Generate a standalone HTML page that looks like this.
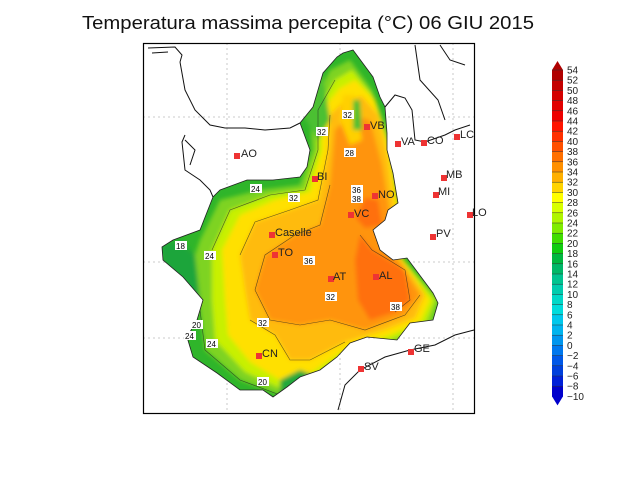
<!DOCTYPE html>
<html><head><meta charset="utf-8"><style>
body{margin:0;background:#fff;width:640px;height:480px;overflow:hidden}
svg{display:block}
text{font-family:"Liberation Sans",sans-serif}
</style></head><body>
<svg width="640" height="480" viewBox="0 0 640 480" xmlns="http://www.w3.org/2000/svg">
<text x="308" y="29" font-size="18" text-anchor="middle" textLength="452" lengthAdjust="spacingAndGlyphs" fill="#111">Temperatura massima percepita (°C) 06 GIU 2015</text>
<defs>
<clipPath id="pie"><path id="pp" d="M343,53 L353,50 L373,77 L380,97 L385,107 L387,133 L387,150 L393,173 L398,203 L388,210 L385,220 L373,230 L380,250 L393,260 L407,258 L433,293 L438,303 L433,320 L410,323 L397,340 L367,337 L350,343 L337,357 L320,370 L300,377 L287,387 L273,397 L263,390 L240,390 L217,373 L193,357 L187,337 L197,320 L203,300 L183,277 L163,260 L162,247 L173,240 L200,230 L213,197 L220,190 L247,180 L273,180 L300,177 L307,167 L310,150 L300,123 L313,107 L323,73 L337,57 Z"/></clipPath>
<filter id="bl"><feGaussianBlur stdDeviation="2"/></filter>
</defs>
<g stroke="#bbb" stroke-dasharray="2,3" stroke-width="0.8">
<line x1="227" y1="43" x2="227" y2="413"/><line x1="340" y1="43" x2="340" y2="413"/><line x1="453" y1="43" x2="453" y2="413"/>
<line x1="143" y1="117" x2="474" y2="117"/><line x1="143" y1="262" x2="474" y2="262"/><line x1="143" y1="338" x2="474" y2="338"/>
</g>
<g clip-path="url(#pie)">
<rect x="140" y="40" width="340" height="380" fill="#2fb52a"/>
<g filter="url(#bl)">
<path d="M200,240 L220,200 L260,190 L300,185 L312,150 L310,110 L330,70 L350,60 L372,90 L390,140 L400,210 L395,250 L440,300 L430,330 L390,345 L345,360 L320,385 L280,395 L240,380 L205,350 L200,310 L190,270 Z" fill="#7ed321"/>
<path d="M212,250 L230,210 L270,195 L305,190 L318,150 L318,110 L335,80 L352,70 L372,95 L390,150 L400,215 L400,255 L435,300 L425,325 L390,340 L345,355 L315,378 L280,388 L245,372 L215,340 L212,300 Z" fill="#c8f000"/>
<path d="M222,250 L240,215 L275,200 L310,192 L322,150 L322,110 L340,88 L355,80 L375,100 L390,150 L400,215 L400,255 L430,300 L420,322 L390,335 L345,350 L312,372 L280,380 L250,362 L228,335 L225,300 Z" fill="#ffe000"/>
<path d="M240,255 L255,222 L290,210 L318,200 L328,150 L330,115 L345,100 L362,96 L378,115 L388,160 L395,215 L398,255 L425,295 L415,318 L385,330 L345,342 L310,360 L290,360 L275,335 L250,320 L245,290 Z" fill="#ffbb10"/>
<path d="M255,290 L265,255 L295,235 L320,225 L330,185 L335,130 L350,115 L370,120 L382,165 L390,215 L395,255 L420,295 L405,315 L365,330 L330,320 L300,325 L270,320 Z" fill="#ff9410"/>
<path d="M360,235 L372,250 L392,262 L405,270 L410,300 L395,312 L370,320 L358,300 L355,260 Z" fill="#ff7010"/>
<path d="M365,198 L378,200 L382,225 L365,228 L356,218 Z" fill="#ff7010"/>
<path d="M343,95 L355,95 L362,140 L350,145 L340,120 Z" fill="#ffd000"/>
<path d="M353,100 L360,100 L362,130 L353,130 Z" fill="#4cc030"/>
<path d="M300,110 L310,95 L322,70 L330,120 L318,140 Z" fill="#4cc030"/>
<path d="M160,245 L180,240 L195,255 L200,300 L190,330 L175,300 L165,270 Z" fill="#1fa53a"/>
<path d="M280,380 L300,370 L320,378 L305,395 L280,395 Z" fill="#20a83a"/>
</g>
<g fill="none" stroke="#222" stroke-width="0.6" opacity="0.7">
<path d="M212,250 L230,210 L270,195 L305,190 L318,150 L318,110 L335,80"/>
<path d="M240,255 L255,222 L290,210 L318,200 L328,150 L330,115"/>
<path d="M255,290 L265,255 L295,235 L320,225 L330,185"/>
<path d="M255,290 L270,320 L300,325 L330,320 L365,330 L405,315 L420,295"/>
<path d="M250,320 L275,335 L290,360 L310,360 L345,342"/>
<path d="M200,310 L205,350 L240,380 L280,395"/>
<path d="M360,235 L372,250 L392,262 L405,270 L410,300 L395,312"/>
</g>
</g>
<use href="#pp" fill="none" stroke="#222" stroke-width="0.8"/>
<g fill="none" stroke="#111" stroke-width="1">
<path d="M148,48 L175,47 L182,55 L180,62"/>
<path d="M152,53 L168,52"/>
<path d="M180,62 L185,90 L195,110 L210,125 L225,128 L245,128 L265,130 L290,128 L300,123"/>
<path d="M185,135 L182,142 L185,170 L200,180 L210,190 L213,197"/>
<path d="M185,140 L195,150 L190,165"/>
<path d="M385,107 L395,95 L405,98 L412,110 L415,140 L425,142 L445,135 L455,130 L470,125"/>
<path d="M415,45 L420,80 L438,100 L445,120"/>
<path d="M440,45 L450,60 L465,65"/>
<path d="M338,410 L345,385 L360,370 L385,357 L410,350 L435,345 L455,335 L474,330"/>
</g>
<rect x="143.5" y="43.5" width="331" height="370" fill="none" stroke="#000" stroke-width="1.2"/>
<g font-size="11" fill="#222">
<g fill="#e33"><rect x="234" y="153" width="6" height="6"/><rect x="364" y="124" width="6" height="6"/><rect x="395" y="141" width="6" height="6"/><rect x="421" y="140" width="6" height="6"/><rect x="454" y="134" width="6" height="6"/><rect x="441" y="175" width="6" height="6"/><rect x="433" y="192" width="6" height="6"/><rect x="467" y="212" width="6" height="6"/><rect x="430" y="234" width="6" height="6"/><rect x="312" y="176" width="6" height="6"/><rect x="372" y="193" width="6" height="6"/><rect x="348" y="212" width="6" height="6"/><rect x="269" y="232" width="6" height="6"/><rect x="272" y="252" width="6" height="6"/><rect x="328" y="276" width="6" height="6"/><rect x="373" y="274" width="6" height="6"/><rect x="256" y="353" width="6" height="6"/><rect x="358" y="366" width="6" height="6"/><rect x="408" y="349" width="6" height="6"/></g>
<text x="241" y="157">AO</text><text x="370" y="129">VB</text><text x="401" y="145">VA</text><text x="427" y="144">CO</text><text x="460" y="138">LC</text><text x="446" y="178">MB</text><text x="438" y="195">MI</text><text x="472" y="216">LO</text><text x="436" y="237">PV</text><text x="317" y="180">BI</text><text x="378" y="198">NO</text><text x="354" y="217">VC</text><text x="275" y="236">Caselle</text><text x="278" y="256">TO</text><text x="333" y="280">AT</text><text x="379" y="279">AL</text><text x="262" y="357">CN</text><text x="364" y="370">SV</text><text x="414" y="352">GE</text>
</g>
<g font-size="8" fill="#000">
<g fill="#fff"><rect x="342" y="110" width="12" height="9"/><rect x="316" y="127" width="12" height="9"/><rect x="344" y="148" width="12" height="9"/><rect x="351" y="185" width="12" height="9"/><rect x="351" y="194" width="12" height="9"/><rect x="288" y="193" width="12" height="9"/><rect x="250" y="184" width="12" height="9"/><rect x="175" y="241" width="12" height="9"/><rect x="204" y="251" width="12" height="9"/><rect x="303" y="256" width="12" height="9"/><rect x="325" y="292" width="12" height="9"/><rect x="390" y="302" width="12" height="9"/><rect x="257" y="318" width="12" height="9"/><rect x="191" y="320" width="12" height="9"/><rect x="184" y="331" width="12" height="9"/><rect x="206" y="339" width="12" height="9"/><rect x="257" y="377" width="12" height="9"/></g>
<text x="343" y="118">32</text><text x="317" y="135">32</text><text x="345" y="156">28</text><text x="352" y="193">36</text><text x="352" y="202">38</text><text x="289" y="201">32</text><text x="251" y="192">24</text><text x="176" y="249">18</text><text x="205" y="259">24</text><text x="304" y="264">36</text><text x="326" y="300">32</text><text x="391" y="310">38</text><text x="258" y="326">32</text><text x="192" y="328">20</text><text x="185" y="339">24</text><text x="207" y="347">24</text><text x="258" y="385">20</text>
</g>
<g id="cb"></g>
</svg>
<script>
(function(){
var cols=["#b00000","#c40000","#d40000","#e20000","#ee0000","#ff1400","#ff3000","#ff5000","#ff7000","#ff9000","#ffb000","#ffd400","#ffff00","#d8ff00","#b0f500","#80ec00","#40dd00","#10cc10","#00b840","#00b868","#00c490","#00ccae","#00d8c8","#00dcdc","#00c8ec","#00b4ee","#0096ee","#0078ee","#0058e8","#0040dc","#0020d8","#0000cc"];
var g=document.getElementById("cb"),y0=70,h=10.2,x=552,w=11,s="";
s+='<polygon points="'+x+','+y0+' '+(x+w)+','+y0+' '+(x+w/2)+','+(y0-9)+'" fill="'+cols[0]+'"/>';
for(var i=0;i<32;i++){s+='<rect x="'+x+'" y="'+(y0+i*h)+'" width="'+w+'" height="'+(h+0.3)+'" fill="'+cols[i]+'"/>';
s+='<line x1="'+x+'" x2="'+(x+w)+'" y1="'+(y0+i*h)+'" y2="'+(y0+i*h)+'" stroke="#333" stroke-width="0.5"/>';}
var b=y0+32*h;
s+='<polygon points="'+x+','+b+' '+(x+w)+','+b+' '+(x+w/2)+','+(b+9)+'" fill="'+cols[31]+'"/>';
for(var i=0;i<=32;i++){var v=54-2*i;var t=v<0?"\u2212"+(-v):""+v;
s+='<text x="567" y="'+(y0+i*h+3.5)+'" font-size="10" fill="#222">'+t+'</text>';}
g.innerHTML=s;
})();
</script>
</body></html>
